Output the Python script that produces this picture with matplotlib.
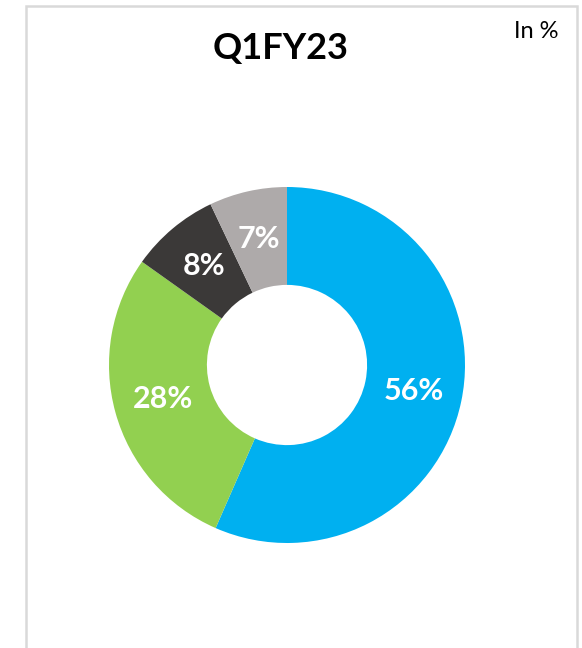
import matplotlib.pyplot as plt
from matplotlib.patches import Rectangle

# Données du graphique
title = "Q1FY23"
unit_label = "In %"
values = [56, 28, 8, 7]
labels = [f"{v}%" for v in values]
colors = ["#00B0F0", "#92D050", "#3B3938", "#AEAAAA"]

W, H = 582, 648
fig = plt.figure(figsize=(W / 100, H / 100), dpi=100)

# Cadre gris autour du graphique
fig.patches.append(Rectangle((26 / W, -0.05), 551 / W, 1.05 - 6 / H,
                             transform=fig.transFigure, fill=False,
                             edgecolor="#D9D9D9", linewidth=1.8))

fig.text(281 / W, 1 - 49 / H, title, ha="center", va="center",
         fontsize=26, fontweight="bold", family="Lato", color="black")
fig.text(558 / W, 1 - 38 / H, unit_label, ha="right", va="baseline",
         fontsize=17, family="Lato", color="black")

# Donut
cx, cy, r = 287, 365, 178
ax = fig.add_axes([(cx - r) / W, (H - cy - r) / H, 2 * r / W, 2 * r / H])
ax.pie(values, labels=labels, colors=colors, startangle=90, counterclock=False,
       labeldistance=0.725, radius=1,
       wedgeprops=dict(width=0.55, linewidth=0),
       textprops=dict(color="white", fontsize=22, fontweight="bold",
                      family="Lato", ha="center", va="center"))
ax.set_xlim(-1, 1)
ax.set_ylim(-1, 1)
ax.axis("off")

plt.savefig("out.png", dpi=100)
